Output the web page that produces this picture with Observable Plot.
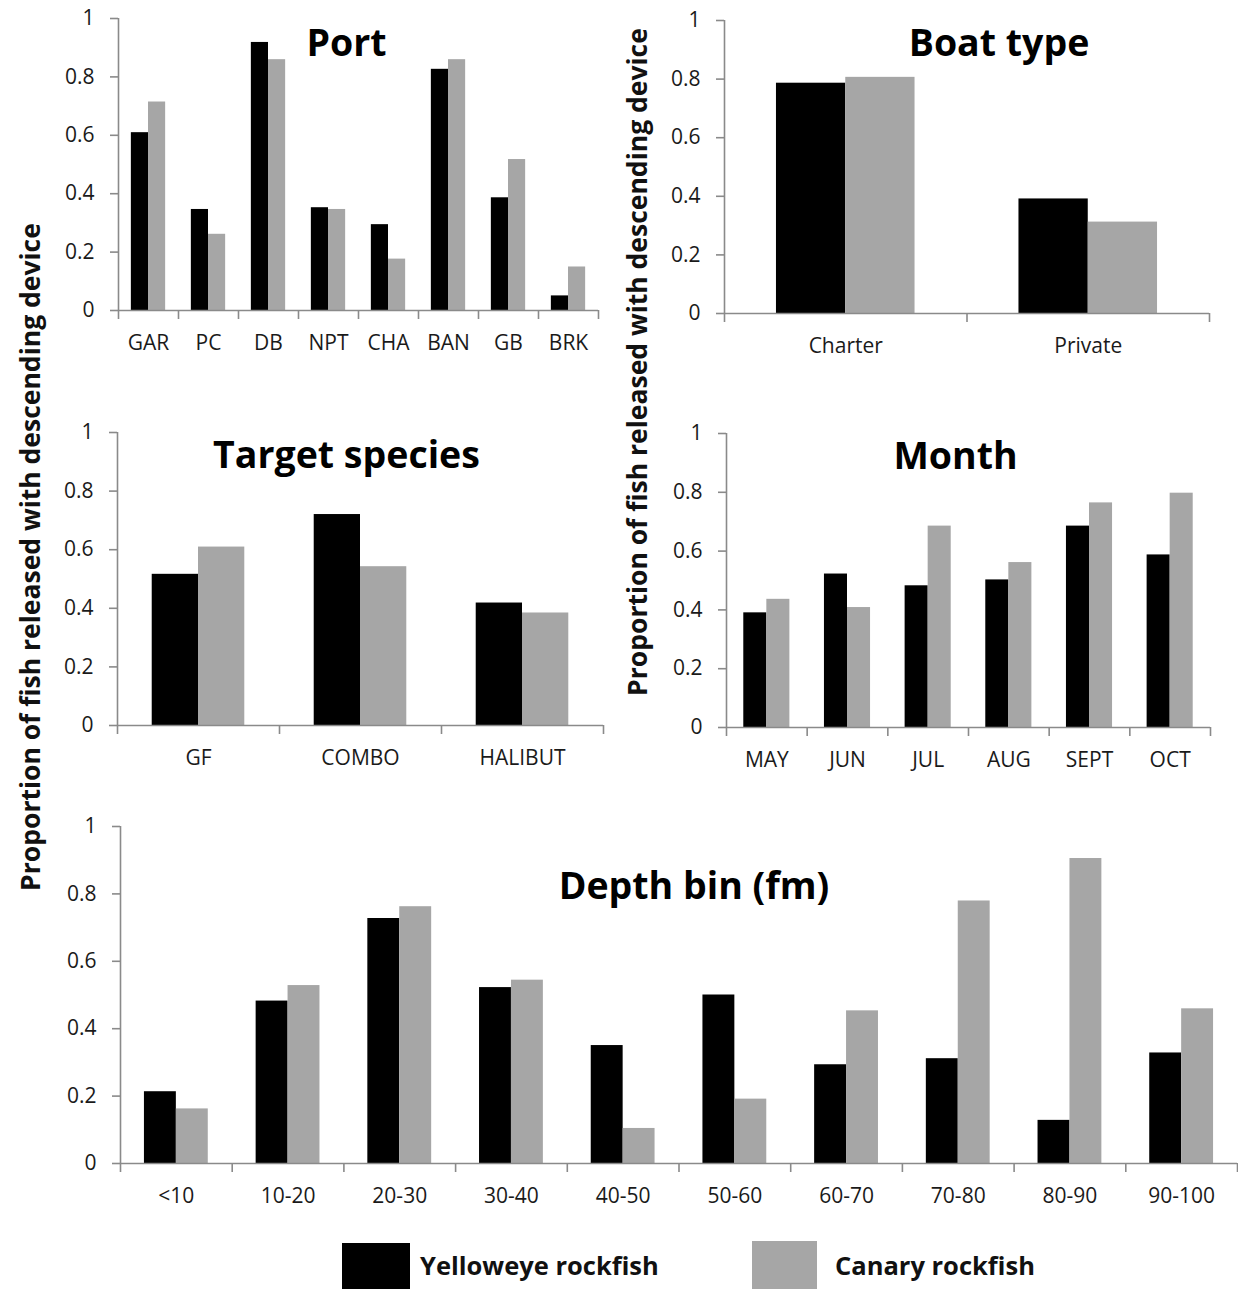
<!DOCTYPE html>
<html><head><meta charset="utf-8">
<script src="https://cdn.jsdelivr.net/npm/d3@7"></script>
<script src="https://cdn.jsdelivr.net/npm/@observablehq/plot@0.6"></script>
<style>
body{margin:0;background:#fff;}
#fig{position:relative;width:1238px;height:1289px;overflow:hidden;font-family:"Open Sans",sans-serif;background:#fff;}
.panel{position:absolute;}
.ylab{position:absolute;font-weight:bold;font-size:26.5px;white-space:nowrap;color:#111;transform:translate(-50%,-50%) rotate(-90deg);z-index:5;}
.sw{position:absolute;}
.lt{position:absolute;font-weight:bold;font-size:25.5px;color:#111;white-space:nowrap;line-height:1;}
</style></head><body><div id="fig"></div>
<script>
const series = ["Yelloweye rockfish", "Canary rockfish"];
const yTicks = [0, 0.2, 0.4, 0.6, 0.8, 1];

const portCats = ["GAR", "PC", "DB", "NPT", "CHA", "BAN", "GB", "BRK"];
const portYelloweye = [0.609, 0.346, 0.918, 0.352, 0.294, 0.826, 0.386, 0.050];
const portCanary    = [0.714, 0.261, 0.859, 0.346, 0.176, 0.859, 0.517, 0.149];

const boatCats = ["Charter", "Private"];
const boatYelloweye = [0.786, 0.391];
const boatCanary    = [0.806, 0.312];

const targetCats = ["GF", "COMBO", "HALIBUT"];
const targetYelloweye = [0.516, 0.720, 0.418];
const targetCanary    = [0.609, 0.542, 0.384];

const monthCats = ["MAY", "JUN", "JUL", "AUG", "SEPT", "OCT"];
const monthYelloweye = [0.390, 0.522, 0.482, 0.502, 0.685, 0.587];
const monthCanary    = [0.436, 0.408, 0.685, 0.561, 0.764, 0.797];

const depthCats = ["<10", "10-20", "20-30", "30-40", "40-50", "50-60", "60-70", "70-80", "80-90", "90-100"];
const depthYelloweye = [0.213, 0.482, 0.727, 0.522, 0.350, 0.500, 0.293, 0.311, 0.128, 0.328];
const depthCanary    = [0.162, 0.528, 0.762, 0.544, 0.104, 0.191, 0.453, 0.779, 0.905, 0.459];

const GAP = 0.75 / 3.5, BAR = 1 / 3.5;
const AX = "#8a8a8a", TXT = "#1a1a1a";
const fig = document.getElementById("fig");

function panel(o) {
  const n = o.cats.length;
  const data = o.cats.flatMap((c, i) => [
    {i, k: 0, s: series[0], v: o.yel[i]},
    {i, k: 1, s: series[1], v: o.can[i]}
  ]);
  const svg = Plot.plot({
    width: o.width, height: o.height,
    marginLeft: o.ml, marginRight: o.mr, marginTop: o.mt, marginBottom: o.mb,
    style: {fontFamily: "'Open Sans', sans-serif", background: "transparent", overflow: "visible"},
    x: {domain: [0, n], label: null},
    y: {domain: [0, 1], label: null},
    color: {domain: series, range: ["#000000", "#a6a6a6"]},
    marks: [
      Plot.rect(data, {x1: d => d.i + GAP + d.k * BAR, x2: d => d.i + GAP + (d.k + 1) * BAR, y1: 0, y2: "v", fill: "s"}),
      Plot.ruleY([0], {stroke: AX, strokeWidth: 1.6}),
      Plot.ruleX([0], {stroke: AX, strokeWidth: 1.6}),
      Plot.axisY({ticks: yTicks, tickFormat: d3.format("~g"), tickSize: 8, tickPadding: 16, fontSize: 21, stroke: AX, strokeWidth: 1.6, fill: TXT, label: null}),
      Plot.axisX({ticks: d3.range(n + 1), tickFormat: () => "", tickSize: 9, stroke: AX, strokeWidth: 1.6, label: null}),
      Plot.axisX({ticks: d3.range(n).map(i => i + 0.5), tickFormat: d => o.cats[Math.floor(d)], tickSize: 0, tickPadding: 25, fontSize: 21, fill: TXT, label: null}),
      Plot.text([o.title], {frameAnchor: "top", lineAnchor: "top", dx: o.tdx, dy: o.tdy, fontSize: 37.5, fontWeight: "bold", fill: "#000"})
    ]
  });
  const div = document.createElement("div");
  div.className = "panel";
  div.style.left = o.left + "px";
  div.style.top = o.top + "px";
  div.appendChild(svg);
  fig.appendChild(div);
}

panel({cats: portCats, yel: portYelloweye, can: portCanary, title: "Port",
  left: 0, top: 0, width: 610, height: 380, ml: 118, mr: 12, mt: 18, mb: 70, tdx: -12, tdy: 11});
panel({cats: boatCats, yel: boatYelloweye, can: boatCanary, title: "Boat type",
  left: 610, top: 0, width: 628, height: 383, ml: 114, mr: 29, mt: 20, mb: 70, tdx: 32, tdy: 9});
panel({cats: targetCats, yel: targetYelloweye, can: targetCanary, title: "Target species",
  left: 0, top: 400, width: 610, height: 395, ml: 117, mr: 7, mt: 32, mb: 70, tdx: -14, tdy: 9});
panel({cats: monthCats, yel: monthYelloweye, can: monthCanary, title: "Month",
  left: 610, top: 400, width: 628, height: 397, ml: 116, mr: 28, mt: 33, mb: 70, tdx: -13, tdy: 9});
panel({cats: depthCats, yel: depthYelloweye, can: depthCanary, title: "Depth bin (fm)",
  left: 0, top: 800, width: 1238, height: 433, ml: 120, mr: 1, mt: 26, mb: 70, tdx: 15, tdy: 46});

function ylab(x, y) {
  const d = document.createElement("div");
  d.className = "ylab";
  d.textContent = "Proportion of fish released with descending device";
  d.style.left = x + "px"; d.style.top = y + "px";
  fig.appendChild(d);
}
ylab(30, 557);
ylab(637, 362);

function legendItem(x, w, y, color, label, tx) {
  const s = document.createElement("div");
  s.className = "sw";
  s.style.left = x + "px"; s.style.top = y + "px";
  s.style.width = w + "px"; s.style.height = "60px"; s.style.background = color;
  fig.appendChild(s);
  const t = document.createElement("div");
  t.className = "lt";
  t.textContent = label;
  t.style.left = tx + "px"; t.style.top = "1253px";
  fig.appendChild(t);
}
legendItem(342, 68, 1243, "#000000", series[0], 420);
legendItem(752, 65, 1241, "#a6a6a6", series[1], 835);
</script>
</body></html>
